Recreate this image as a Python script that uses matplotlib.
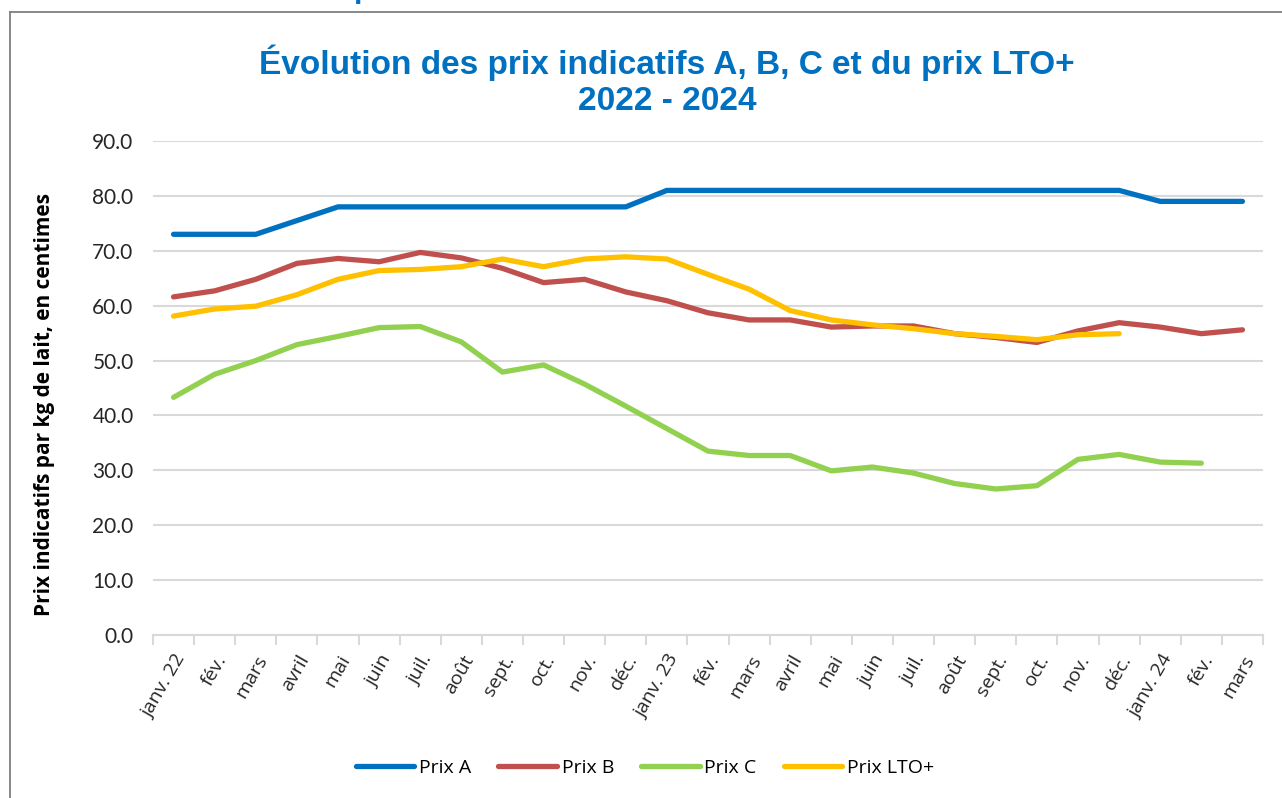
import matplotlib
matplotlib.use("Agg")
import matplotlib.pyplot as plt
from matplotlib.lines import Line2D

months = ["janv. 22", "fév.", "mars", "avril", "mai", "juin", "juil.", "août",
          "sept.", "oct.", "nov.", "déc.",
          "janv. 23", "fév.", "mars", "avril", "mai", "juin", "juil.", "août",
          "sept.", "oct.", "nov.", "déc.",
          "janv. 24", "fév.", "mars"]

prix_a = [73.0, 73.0, 73.0, 75.5, 78.0, 78.0, 78.0, 78.0, 78.0, 78.0, 78.0, 78.0,
          81.0, 81.0, 81.0, 81.0, 81.0, 81.0, 81.0, 81.0, 81.0, 81.0, 81.0, 81.0,
          79.0, 79.0, 79.0]
prix_b = [61.6, 62.7, 64.8, 67.7, 68.6, 68.0, 69.7, 68.7, 66.8, 64.2, 64.8, 62.5,
          60.9, 58.7, 57.4, 57.4, 56.1, 56.3, 56.3, 54.9, 54.2, 53.3, 55.4, 56.9,
          56.1, 54.9, 55.6]
prix_c = [43.3, 47.5, 50.0, 52.9, 54.4, 56.0, 56.2, 53.4, 47.9, 49.2, 45.7, 41.7,
          37.6, 33.5, 32.7, 32.7, 29.9, 30.6, 29.5, 27.6, 26.6, 27.2, 32.0, 32.9,
          31.5, 31.3]
prix_lto = [58.1, 59.4, 59.9, 62.0, 64.8, 66.4, 66.6, 67.1, 68.5, 67.1, 68.5, 68.9,
            68.5, 65.7, 63.0, 59.1, 57.4, 56.5, 55.8, 54.9, 54.4, 53.8, 54.7, 54.9]

series = [("Prix A", prix_a, "#0070C0"),
          ("Prix B", prix_b, "#C0504D"),
          ("Prix C", prix_c, "#92D050"),
          ("Prix LTO+", prix_lto, "#FFC000")]

W, H = 1282, 798
fig = plt.figure(figsize=(W / 100, H / 100), dpi=100)

# chart frame (only left and top edges visible in the crop)
fig.add_artist(Line2D([9.5 / W, 9.5 / W], [0, 1 - 12 / H], transform=fig.transFigure,
                      color="#7f7f7f", lw=1.3))
fig.add_artist(Line2D([9.5 / W, 1], [1 - 12 / H, 1 - 12 / H], transform=fig.transFigure,
                      color="#7f7f7f", lw=1.3))
# cut-off heading above the frame (only the descender shows)
fig.text(363 / W, 1 + 3.5 / H, "p", color="#0070C0", fontsize=22, fontweight="bold",
         ha="center", va="baseline", family="Liberation Sans")

ax = fig.add_axes([153 / W, 1 - 635 / H, (1263 - 153) / W, (635 - 141) / H])

for name, vals, col in series:
    x = [i + 0.5 for i in range(len(vals))]
    ax.plot(x, vals, color=col, lw=3.8, label=name, solid_capstyle="round",
            solid_joinstyle="round")

ax.set_xlim(0, len(months))
ax.set_ylim(0, 90)
ax.set_yticks(range(0, 91, 10))
ax.set_yticklabels([f"{v:.1f}" for v in range(0, 91, 10)], fontsize=15,
                   family="Lato", color="#262626")
ax.yaxis.grid(True, color="#d9d9d9", lw=1.5)
ax.set_axisbelow(True)
ax.tick_params(axis="y", length=0, pad=14)

ax.set_xticks(range(len(months) + 1))
ax.set_xticklabels([])
ax.set_xticks([i + 0.5 for i in range(len(months))], minor=True)
ax.set_xticklabels(months, minor=True, rotation=60, ha="right", va="top",
                   rotation_mode="anchor", fontsize=14, family="Open Sans",
                   color="#262626")
ax.tick_params(axis="x", which="major", length=7, color="#d9d9d9", width=1.5)
ax.tick_params(axis="x", which="minor", length=0, pad=12)

for s in ["top", "right", "left"]:
    ax.spines[s].set_visible(False)
ax.spines["bottom"].set_color("#d9d9d9")
ax.spines["bottom"].set_linewidth(1.5)

fig.text(45 / W, 1 - 405 / H, "Prix indicatifs par kg de lait, en centimes",
         fontsize=15, fontweight="bold", family="Open Sans", rotation=90,
         ha="center", va="center")

fig.text(667 / W, 1 - 63 / H, "Évolution des prix indicatifs A, B, C et du prix LTO+",
         color="#0070C0", fontsize=24, fontweight="bold", ha="center", va="center",
         family=["Liberation Sans Narrow", "Liberation Sans"])
fig.text(667 / W, 1 - 101 / H, "2022 - 2024", color="#0070C0", fontsize=24,
         fontweight="bold", ha="center", va="center",
         family=["Liberation Sans Narrow", "Liberation Sans"])

fig.legend(loc="center", bbox_to_anchor=(645 / W, 1 - 768 / H), ncol=4, frameon=False,
           handlelength=3.0, handletextpad=0.25, columnspacing=1.4,
           prop={"family": "Open Sans", "size": 14})

fig.savefig("out.png", dpi=100)
